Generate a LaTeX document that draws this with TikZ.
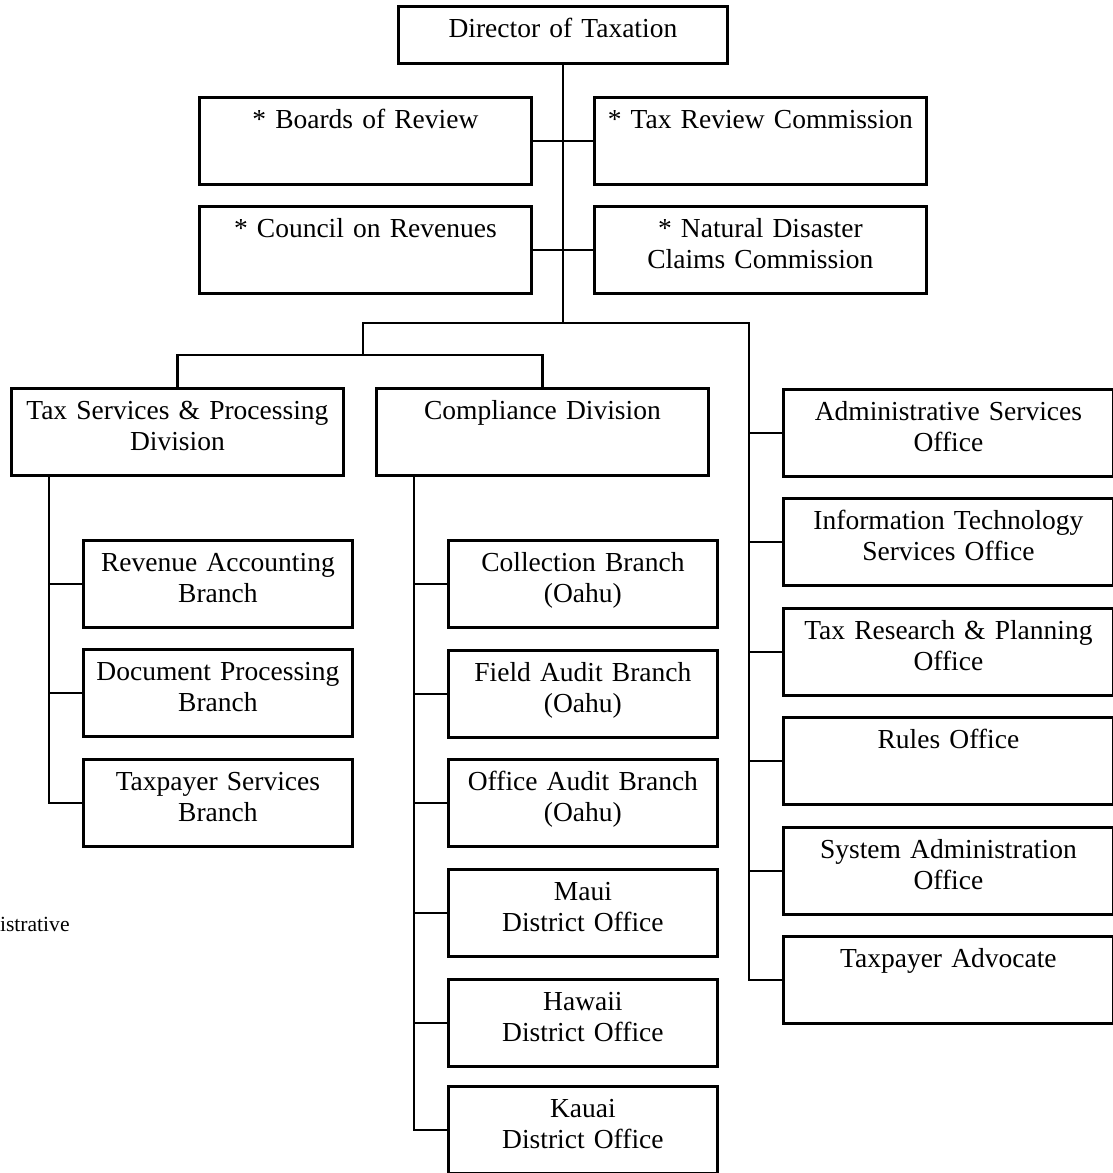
\documentclass[tikz,border=0pt]{standalone}
\usepackage{fontspec}
\setmainfont{Liberation Serif}
\newcommand{\orgfont}{\fontsize{13.75pt}{15.5pt}\selectfont}
\tikzset{
  org/.style={
    draw=black,
    line width=1.4pt,
    inner sep=0pt,
    align=center,
    anchor=north west,
    text height=15.5pt,
    text depth=28pt,
    font=\orgfont
  },
  org-head/.style={org, text width=164.5pt, text depth=13pt},
  org-wide/.style={org, text width=166pt},
  org-office/.style={org, text width=165pt},
  org-branch/.style={org, text width=134.5pt},
  link/.style={line width=1.4pt}
}

\begin{document}
\begin{tikzpicture}[x=0.5pt, y=-0.5pt]
  \useasboundingbox (0,0) rectangle (1113,1173);
  % Director and attached bodies
  \node[org-head] (dir) at (397,5) {Director of Taxation};
  \node[org-wide] (boards) at (198,96) {* Boards of Review\\~};
  \node[org-wide] (taxrev) at (593,96) {* Tax Review Commission\\~};
  \node[org-wide] (council) at (198,205) {* Council on Revenues\\~};
  \node[org-wide] (natdis) at (593,205) {* Natural Disaster\\Claims Commission};
  % Divisions
  \node[org-wide] (tsp) at (10,387) {Tax Services \& Processing\\Division};
  \node[org-wide] (comp) at (375,387) {Compliance Division\\~};
  % Staff offices
  \node[org-office] (admin) at (782,388) {Administrative Services\\Office};
  \node[org-office] (itso) at (782,497) {Information Technology\\Services Office};
  \node[org-office] (trpo) at (782,607) {Tax Research \& Planning\\Office};
  \node[org-office] (rules) at (782,716) {Rules Office\\~};
  \node[org-office] (sysadm) at (782,826) {System Administration\\Office};
  \node[org-office] (advocate) at (782,935) {Taxpayer Advocate\\~};
  % Tax services branches
  \node[org-branch] (revacc) at (82,539) {Revenue Accounting\\Branch};
  \node[org-branch] (docproc) at (82,648) {Document Processing\\Branch};
  \node[org-branch] (tpsvc) at (82,758) {Taxpayer Services\\Branch};
  % Compliance branches and district offices
  \node[org-branch] (collect) at (447,539) {Collection Branch\\(Oahu)};
  \node[org-branch] (fieldaud) at (447,649) {Field Audit Branch\\(Oahu)};
  \node[org-branch] (officeaud) at (447,758) {Office Audit Branch\\(Oahu)};
  \node[org-branch] (maui) at (447,868) {Maui\\District Office};
  \node[org-branch] (hawaii) at (447,978) {Hawaii\\District Office};
  \node[org-branch] (kauai) at (447,1085) {Kauai\\District Office};
  % Footnote remnant
  \node[anchor=base east, inner sep=0pt, font=\fontsize{10.8pt}{13pt}\selectfont] (note) at (70,931) {istrative};
  % Junctions
  \coordinate (hub) at (dir.south |- 0,323);
  \coordinate (offhub) at (749,323);
  \coordinate (divhub) at (363,355);
  \coordinate (tspline) at (49,474);
  \coordinate (compline) at (414,474);
  % Connectors
  \draw[link] (dir.south) -- (hub);
  \draw[link] (boards.east) -- (taxrev.west);
  \draw[link] (council.east) -- (natdis.west);
  \draw[link] (hub) -| (divhub);
  \draw[link] (tsp.north) |- (divhub) -| (comp.north);
  \draw[link] (hub) -- (offhub) |- (advocate.west);
  \draw[link] (admin.west) -- (admin.west -| offhub);
  \draw[link] (itso.west) -- (itso.west -| offhub);
  \draw[link] (trpo.west) -- (trpo.west -| offhub);
  \draw[link] (rules.west) -- (rules.west -| offhub);
  \draw[link] (sysadm.west) -- (sysadm.west -| offhub);
  \draw[link] (tspline) |- (tpsvc.west);
  \draw[link] (revacc.west) -- (revacc.west -| tspline);
  \draw[link] (docproc.west) -- (docproc.west -| tspline);
  \draw[link] (compline) |- (kauai.west);
  \draw[link] (collect.west) -- (collect.west -| compline);
  \draw[link] (fieldaud.west) -- (fieldaud.west -| compline);
  \draw[link] (officeaud.west) -- (officeaud.west -| compline);
  \draw[link] (maui.west) -- (maui.west -| compline);
  \draw[link] (hawaii.west) -- (hawaii.west -| compline);
\end{tikzpicture}
\end{document}
